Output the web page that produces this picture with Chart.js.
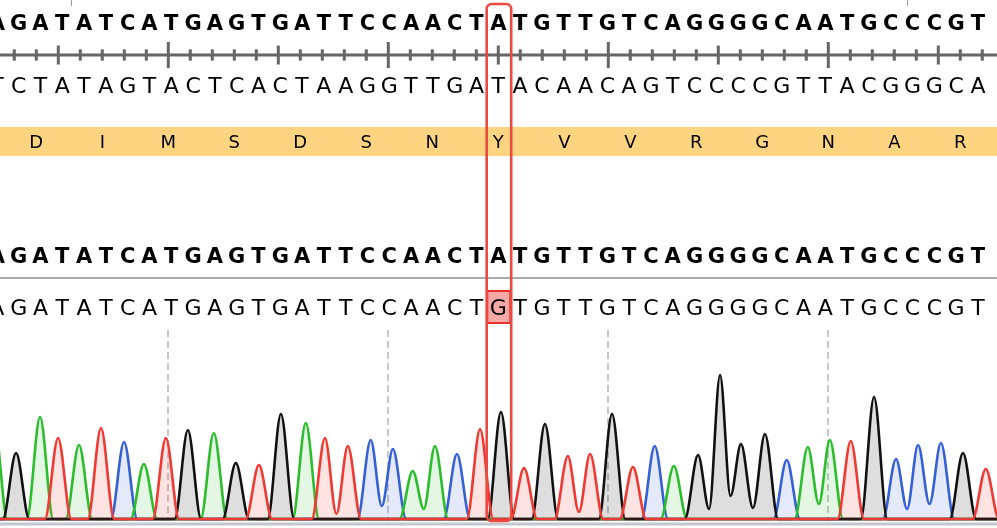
<!DOCTYPE html>
<html>
<head>
<meta charset="utf-8">
<title>Sequence trace</title>
<script src="https://cdn.jsdelivr.net/npm/chart.js@4.4.1/dist/chart.umd.min.js"></script>
<style>
  html, body { margin: 0; padding: 0; background: #fff; }
  #wrap { width: 997px; height: 528px; position: relative; }
</style>
</head>
<body>
<div id="wrap"><canvas id="trace"></canvas></div>
<script>
// sequences (one letter per base position)
const reference  = "AGATATCATGAGTGATTCCAACTATGTTGTCAGGGGCAATGCCCGT";
const complement = "TCTATAGTACTCACTAAGGTTGATACAACAGTCCCCGTTACGGGCA";
const calls      = "AGATATCATGAGTGATTCCAACTGTGTTGTCAGGGGCAATGCCCGT";
const aminoAcids = ["D", "I", "M", "S", "D", "S", "N", "Y", "V", "V", "R", "G", "N", "A", "R"];
const mutationAt = 23;

// peak location (in base units) and peak height for each called base
const peakLocs = [0.08, 1.08, 2.17, 2.99, 3.94, 4.94, 5.99, 6.89, 7.89, 8.89,
  10.07, 11.07, 12.12, 13.12, 14.25, 15.12, 16.16, 17.2, 18.21, 19.11,
  20.12, 21.12, 22.17, 23.12, 24.17, 25.12, 26.16, 27.17, 28.17, 29.12,
  30.11, 30.98, 32.08, 33.08, 34.03, 35.12, 36.11, 37.07, 38.07, 39.02,
  40.08, 41.08, 42.08, 43.12, 44.12, 45.16];
const peakHeights = [100, 68, 104, 83, 76, 93, 79, 57, 83, 91,
  88, 58, 56, 107, 98, 83, 75, 81, 72, 50,
  75, 67, 92, 109, 53, 97, 65, 67, 107, 54,
  75, 55, 66, 146, 77, 87, 61, 74, 81, 80,
  124, 62, 76, 78, 68, 52];

// valleys between two neighbouring peaks of the same base
const dipAfter = [15, 17, 19, 26, 32, 33, 34, 37, 41, 42];
const dipDepth = [7, 15, 12, 9, 12, 25, 13, 17, 12, 17];

const gridMarks = [8, 18, 28, 38];
const topMarks = [3.58, 41.58];
const baseline = 2;
const halfWidth = 0.6;
const letterPitch = 0.991; // letters sit slightly tighter than the ruler

const channels = [
  { base: "T", line: "#ee3a32", fill: "rgba(238,58,50,0.14)" },
  { base: "G", line: "#111111", fill: "rgba(0,0,0,0.13)" },
  { base: "A", line: "#2bbd2b", fill: "rgba(43,189,43,0.13)" },
  { base: "C", line: "#3560d6", fill: "rgba(53,96,214,0.13)" }
];

function tracePoints(base) {
  const pts = [{ x: -2, y: baseline }];
  for (let i = 0; i < calls.length; i++) {
    if (calls[i] !== base) continue;
    const prevSame = i > 0 && calls[i - 1] === base;
    const nextSame = i < calls.length - 1 && calls[i + 1] === base;
    if (!prevSame) pts.push({ x: peakLocs[i] - halfWidth, y: baseline });
    pts.push({ x: peakLocs[i], y: peakHeights[i] });
    if (nextSame) {
      const k = dipAfter.indexOf(i);
      pts.push({ x: (peakLocs[i] + peakLocs[i + 1]) / 2, y: k >= 0 ? dipDepth[k] : baseline });
    } else {
      pts.push({ x: peakLocs[i] + halfWidth, y: baseline });
    }
  }
  pts.push({ x: 48, y: baseline });
  return pts;
}

// sequence rows, ruler and the mutation marker, placed with the x scale
const seqTracks = {
  id: "seqTracks",
  afterDraw(chart) {
    const ctx = chart.ctx;
    const xs = chart.scales.x;
    const W = chart.width;
    const px = v => xs.getPixelForValue(v);
    const lx = i => px(mutationAt + (i - mutationAt) * letterPitch);
    const area = chart.chartArea;
    ctx.save();

    // quality strip under the trace
    ctx.fillStyle = "#c3c7cf";
    ctx.fillRect(0, area.bottom + 1.5, W, 3);

    // faint marks at the very top
    ctx.strokeStyle = "#999";
    ctx.lineWidth = 1;
    topMarks.forEach(v => {
      ctx.beginPath();
      ctx.moveTo(Math.round(px(v)) + 0.5, 0);
      ctx.lineTo(Math.round(px(v)) + 0.5, 6);
      ctx.stroke();
    });

    // ruler
    ctx.strokeStyle = "#666";
    ctx.lineWidth = 3;
    ctx.beginPath();
    ctx.moveTo(0, 55);
    ctx.lineTo(W, 55);
    ctx.stroke();
    for (let i = 0; i <= reference.length; i++) {
      const h = i % 10 === 8 ? 13 : i % 10 === 3 ? 9.5 : 5.7;
      ctx.beginPath();
      ctx.moveTo(px(i), 55 - h);
      ctx.lineTo(px(i), 55 + h);
      ctx.stroke();
    }

    // amino acid band
    ctx.fillStyle = "#ffd480";
    ctx.fillRect(0, 127, W, 29);

    // divider between reference and calls
    ctx.strokeStyle = "#aaa";
    ctx.lineWidth = 2;
    ctx.beginPath();
    ctx.moveTo(0, 278);
    ctx.lineTo(W, 278);
    ctx.stroke();

    // mismatch highlight
    const mx = px(mutationAt);
    ctx.fillStyle = "#f7a9a7";
    ctx.fillRect(mx - 11, 291, 23, 32);
    ctx.strokeStyle = "#e8322b";
    ctx.lineWidth = 2;
    ctx.strokeRect(mx - 11, 291, 23, 32);

    ctx.fillStyle = "#000";
    ctx.textAlign = "center";
    ctx.textBaseline = "alphabetic";
    const row = (str, y, font) => {
      ctx.font = font;
      for (let i = 0; i < str.length; i++) ctx.fillText(str[i], lx(i), y);
    };
    row(reference, 30, "bold 21px 'DejaVu Sans'");
    row(complement, 93, "22px 'DejaVu Sans'");
    row(reference, 263, "bold 21px 'DejaVu Sans'");
    row(calls, 315, "22px 'DejaVu Sans'");
    ctx.font = "18px 'DejaVu Sans'";
    aminoAcids.forEach((aa, k) => ctx.fillText(aa, px(2 + 3 * k), 148));

    // mutation column
    ctx.strokeStyle = "#ec4a40";
    ctx.lineWidth = 2.6;
    ctx.beginPath();
    ctx.roundRect(mx - 11.6, 4, 24.5, 517, 5);
    ctx.stroke();
    ctx.restore();
  }
};

new Chart(document.getElementById("trace"), {
  type: "line",
  data: {
    datasets: channels.map(c => ({
      label: c.base,
      data: tracePoints(c.base),
      borderColor: c.line,
      backgroundColor: c.fill,
      borderWidth: 2.6,
      fill: "origin",
      pointRadius: 0,
      cubicInterpolationMode: "monotone"
    }))
  },
  options: {
    responsive: true,
    maintainAspectRatio: false,
    animation: false,
    layout: { padding: { top: 330, bottom: 7, left: 0, right: 0 }, autoPadding: false },
    plugins: { legend: { display: false }, tooltip: { enabled: false } },
    scales: {
      x: {
        type: "linear",
        min: 0.35,
        max: 45.668,
        afterBuildTicks: s => { s.ticks = gridMarks.map(v => ({ value: v })); },
        ticks: { display: false },
        grid: { color: "#c8c8c8", lineWidth: 2, drawTicks: false },
        border: { display: false, dash: [7, 4] }
      },
      y: { display: false, min: 0, max: 191 }
    }
  },
  plugins: [seqTracks]
});
</script>
</body>
</html>
